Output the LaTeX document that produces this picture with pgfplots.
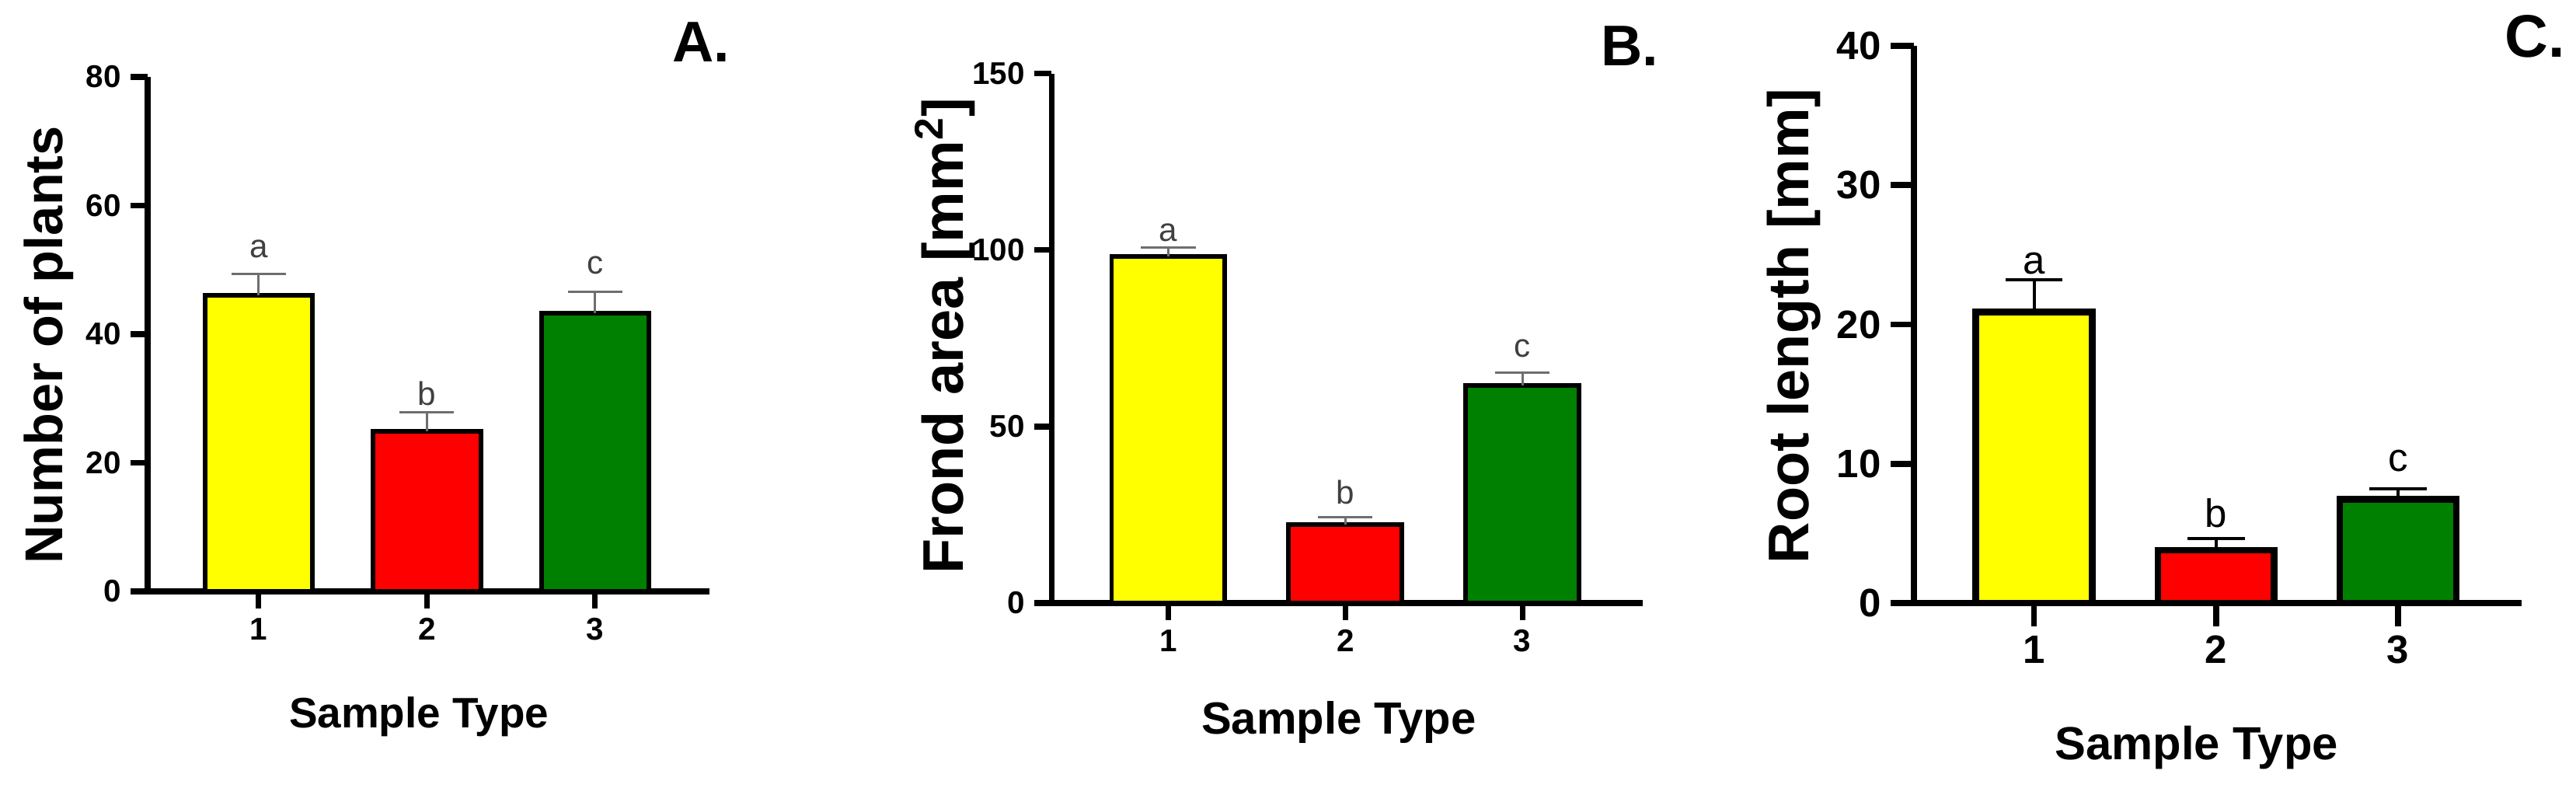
\documentclass[border=0pt]{standalone}
\usepackage{fontspec}
\setmainfont{Liberation Sans}
\usepackage{pgfplots}
\pgfplotsset{compat=1.18}

\definecolor{barY}{RGB}{255,255,0}
\definecolor{barR}{RGB}{255,0,0}
\definecolor{barG}{RGB}{0,128,0}
\definecolor{errgray}{RGB}{110,110,110}

\newcommand{\fs}[1]{\fontsize{#1}{#1}\selectfont}

\pgfplotsset{
  panel/.style={
    scale only axis, anchor=south west, clip=false,
    axis lines*=left,
    ymin=0, xmin=0.34, xmax=3.68,
    xtick={1,2,3},
    tick align=outside,
    /pgf/number format/assume math mode=true,
  },
  bx/.style={ybar, bar width=0.64, bar shift=0pt, draw=black},
}

\begin{document}
\begin{tikzpicture}
\useasboundingbox (0,0) rectangle (33.15cm,10.23cm);

% ---- A: number of plants
\begin{axis}[panel,
  at={(1.90cm,2.62cm)}, width=7.23cm, height=6.62cm,
  ymax=80, ytick={0,20,...,80},
  axis line style={line width=2pt},
  major tick style={line width=2pt, black},
  major tick length=0.22cm,
  ticklabel style={font=\fs{11.5}\bfseries},
  xlabel={Sample Type}, ylabel={Number of plants},
  xlabel style={font=\fs{15.6}\bfseries, at={(axis description cs:0.483,-0.243)}, anchor=center},
  ylabel style={font=\fs{19.5}\bfseries, at={(axis description cs:-0.176,0.479)}, anchor=center},
]
\addplot[bx, fill=barY, line width=1.7pt,
  error bars/.cd, y dir=plus, y explicit, error mark=|,
  error bar style={line width=0.8pt, errgray},
  error mark options={line width=0.8pt, mark size=10pt, errgray}]
  coordinates {(1,46.0) +- (0,3.4)};
\addplot[bx, fill=barR, line width=1.7pt,
  error bars/.cd, y dir=plus, y explicit, error mark=|,
  error bar style={line width=0.8pt, errgray},
  error mark options={line width=0.8pt, mark size=10pt, errgray}]
  coordinates {(2,24.9) +- (0,3.0)};
\addplot[bx, fill=barG, line width=1.7pt,
  error bars/.cd, y dir=plus, y explicit, error mark=|,
  error bar style={line width=0.8pt, errgray},
  error mark options={line width=0.8pt, mark size=10pt, errgray}]
  coordinates {(3,43.3) +- (0,3.3)};
\node[anchor=base, font=\fs{12}, text=black!75] at (axis cs:1,51.9) {a};
\node[anchor=base, font=\fs{12}, text=black!75] at (axis cs:2,29.0) {b};
\node[anchor=base, font=\fs{12}, text=black!75] at (axis cs:3,49.4) {c};
\node[font=\fs{21}\bfseries] at (axis description cs:0.985,1.068) {A.};
\end{axis}

% ---- B: frond area
\begin{axis}[panel,
  at={(13.53cm,2.47cm)}, width=7.61cm, height=6.81cm,
  ymax=150, ytick={0,50,100,150},
  axis line style={line width=2pt},
  major tick style={line width=2pt, black},
  major tick length=0.22cm,
  ticklabel style={font=\fs{11.5}\bfseries},
  xlabel={Sample Type}, ylabel={Frond area [mm\textsuperscript{2}]},
  xlabel style={font=\fs{16.5}\bfseries, at={(axis description cs:0.486,-0.226)}, anchor=center},
  ylabel style={font=\fs{21}\bfseries, at={(axis description cs:-0.18,0.505)}, anchor=center},
]
\addplot[bx, fill=barY, line width=1.7pt,
  error bars/.cd, y dir=plus, y explicit, error mark=|,
  error bar style={line width=0.8pt, errgray},
  error mark options={line width=0.8pt, mark size=10pt, errgray}]
  coordinates {(1,98.3) +- (0,2.5)};
\addplot[bx, fill=barR, line width=1.7pt,
  error bars/.cd, y dir=plus, y explicit, error mark=|,
  error bar style={line width=0.8pt, errgray},
  error mark options={line width=0.8pt, mark size=10pt, errgray}]
  coordinates {(2,22.2) +- (0,2.2)};
\addplot[bx, fill=barG, line width=1.7pt,
  error bars/.cd, y dir=plus, y explicit, error mark=|,
  error bar style={line width=0.8pt, errgray},
  error mark options={line width=0.8pt, mark size=10pt, errgray}]
  coordinates {(3,61.7) +- (0,3.6)};
\node[anchor=base, font=\fs{12}, text=black!75] at (axis cs:1,102.6) {a};
\node[anchor=base, font=\fs{12}, text=black!75] at (axis cs:2,28.0) {b};
\node[anchor=base, font=\fs{12}, text=black!75] at (axis cs:3,69.6) {c};
\node[font=\fs{21}\bfseries] at (axis description cs:0.978,1.053) {B.};
\end{axis}

% ---- C: root length
\begin{axis}[panel,
  at={(24.63cm,2.47cm)}, width=7.82cm, height=7.17cm,
  ymax=40, ytick={0,10,...,40},
  axis line style={line width=2.2pt},
  major tick style={line width=2.2pt, black},
  major tick length=0.3cm,
  ticklabel style={font=\fs{14.5}\bfseries},
  xlabel={Sample Type}, ylabel={Root length [mm]},
  xlabel style={font=\fs{17}\bfseries, at={(axis description cs:0.465,-0.259)}, anchor=center},
  ylabel style={font=\fs{21}\bfseries, at={(axis description cs:-0.197,0.497)}, anchor=center},
]
\addplot[bx, fill=barY, line width=2.4pt,
  error bars/.cd, y dir=plus, y explicit, error mark=|,
  error bar style={line width=1.1pt, black},
  error mark options={line width=1.1pt, mark size=10.5pt, black}]
  coordinates {(1,20.9) +- (0,2.3)};
\addplot[bx, fill=barR, line width=2.4pt,
  error bars/.cd, y dir=plus, y explicit, error mark=|,
  error bar style={line width=1.1pt, black},
  error mark options={line width=1.1pt, mark size=10.5pt, black}]
  coordinates {(2,3.8) +- (0,0.85)};
\addplot[bx, fill=barG, line width=2.4pt,
  error bars/.cd, y dir=plus, y explicit, error mark=|,
  error bar style={line width=1.1pt, black},
  error mark options={line width=1.1pt, mark size=10.5pt, black}]
  coordinates {(3,7.45) +- (0,0.75)};
\node[anchor=base, font=\fs{14.5}] at (axis cs:1,23.6) {a};
\node[anchor=base, font=\fs{14.5}] at (axis cs:2,5.45) {b};
\node[anchor=base, font=\fs{14.5}] at (axis cs:3,9.45) {c};
\node[font=\fs{22}\bfseries] at (axis description cs:1.022,1.017) {C.};
\end{axis}
\end{tikzpicture}
\end{document}
